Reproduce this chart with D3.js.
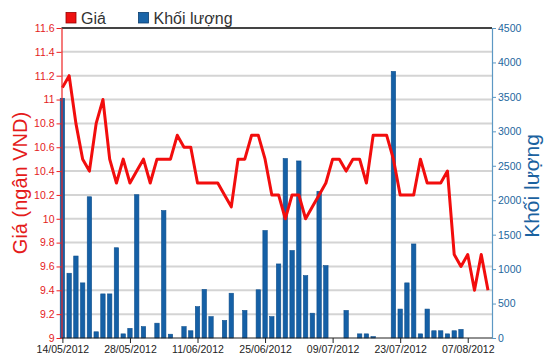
<!DOCTYPE html>
<html>
<head>
<meta charset="utf-8">
<script src="https://cdn.jsdelivr.net/npm/d3@7"></script>
<style>
  html, body { margin: 0; padding: 0; background: #fff; }
  svg { display: block; font-family: Arial, "Liberation Sans", sans-serif; }
</style>
</head>
<body>
<svg id="chart" width="550" height="364"></svg>
<script>
const dates = [
  "14/05/2012","15/05/2012","16/05/2012","17/05/2012","18/05/2012",
  "21/05/2012","22/05/2012","23/05/2012","24/05/2012","25/05/2012",
  "28/05/2012","29/05/2012","30/05/2012","31/05/2012","01/06/2012",
  "04/06/2012","05/06/2012","06/06/2012","07/06/2012","08/06/2012",
  "11/06/2012","12/06/2012","13/06/2012","14/06/2012","15/06/2012",
  "18/06/2012","19/06/2012","20/06/2012","21/06/2012","22/06/2012",
  "25/06/2012","26/06/2012","27/06/2012","28/06/2012","29/06/2012",
  "02/07/2012","03/07/2012","04/07/2012","05/07/2012","06/07/2012",
  "09/07/2012","10/07/2012","11/07/2012","12/07/2012","13/07/2012",
  "16/07/2012","17/07/2012","18/07/2012","19/07/2012","20/07/2012",
  "23/07/2012","24/07/2012","25/07/2012","26/07/2012","27/07/2012",
  "30/07/2012","31/07/2012","01/08/2012","02/08/2012","03/08/2012",
  "07/08/2012","08/08/2012","09/08/2012","10/08/2012"
];
const price = [
  11.1, 11.2, 10.8, 10.5, 10.4, 10.8, 11.0, 10.5, 10.3, 10.5,
  10.3, 10.4, 10.5, 10.3, 10.5, 10.5, 10.5, 10.7, 10.6, 10.6,
  10.3, 10.3, 10.3, 10.3, 10.2, 10.1, 10.5, 10.5, 10.7, 10.7,
  10.5, 10.2, 10.2, 10.0, 10.2, 10.2, 10.0, 10.1, 10.2, 10.3,
  10.5, 10.5, 10.4, 10.5, 10.5, 10.3, 10.7, 10.7, 10.7, 10.5,
  10.2, 10.2, 10.2, 10.5, 10.3, 10.3, 10.3, 10.4, 9.7, 9.6,
  9.7, 9.4, 9.7, 9.4
];
const volume = [
  3480, 940, 1190, 800, 2050, 90, 640, 640, 1310, 60,
  140, 2080, 165, 0, 215, 1850, 55, 0, 165, 105,
  455, 705, 310, 0, 255, 650, 0, 400, 0, 700,
  1560, 310, 1075, 2605, 1270, 2570, 905, 360, 2130, 1050,
  0, 0, 400, 0, 60, 60, 20, 0, 0, 3870,
  420, 800, 1365, 60, 420, 105, 105, 60, 105, 125,
  0, 0, 0, 0
];
const priceTicks = [9, 9.2, 9.4, 9.6, 9.8, 10, 10.2, 10.4, 10.6, 10.8, 11, 11.2, 11.4, 11.6];
const volumeTicks = [0, 500, 1000, 1500, 2000, 2500, 3000, 3500, 4000, 4500];
const dateTicks = ["14/05/2012","28/05/2012","11/06/2012","25/06/2012","09/07/2012","23/07/2012","07/08/2012"];

const svg = d3.select("#chart");
const pLeft = 61.5, pRight = 492, pTop = 28, pBottom = 338;

const x = d3.scalePoint().domain(dates).range([62.4, 488]);
const yP = d3.scaleLinear().domain([9, 11.6]).range([pBottom, pTop]);
const yV = d3.scaleLinear().domain([0, 4500]).range([pBottom, pTop]);

// gridlines
svg.append("g").selectAll("line")
  .data(priceTicks.filter(t => t > 9 && t < 11.6))
  .join("line")
  .attr("x1", pLeft).attr("x2", pRight)
  .attr("y1", d => yP(d)).attr("y2", d => yP(d))
  .attr("stroke", "#d4d4d4").attr("stroke-width", 2);

// top border
svg.append("line")
  .attr("x1", pLeft).attr("x2", pRight).attr("y1", pTop).attr("y2", pTop)
  .attr("stroke", "#444").attr("stroke-width", 2);

// bars
const bw = 4.4;
svg.append("g").selectAll("rect")
  .data(dates.map((d, i) => ({d, v: volume[i]})).filter(o => o.v > 0))
  .join("rect")
  .attr("x", o => x(o.d) - bw / 2)
  .attr("width", bw)
  .attr("y", o => yV(o.v))
  .attr("height", o => pBottom - yV(o.v))
  .attr("fill", "#1560a6")
  .attr("stroke", "#0e4f8c").attr("stroke-width", 0.6);

// price line
const line = d3.line().x((d, i) => x(dates[i])).y(d => yP(d));
svg.append("path")
  .datum(price)
  .attr("d", line)
  .attr("fill", "none")
  .attr("stroke", "#f20d0d")
  .attr("stroke-width", 3)
  .attr("stroke-linejoin", "round");

// left axis
const gL = svg.append("g").attr("transform", `translate(${pLeft},0)`)
  .call(d3.axisLeft(yP).tickValues(priceTicks).tickSize(5).tickSizeOuter(0)
    .tickFormat(d => String(+d.toFixed(1))));
gL.select(".domain").attr("stroke", "#ee2222").attr("stroke-width", 1.2);
gL.selectAll(".tick line").attr("stroke", "#ee2222");
gL.selectAll(".tick text").attr("fill", "#e41b1b").attr("font-size", "10.5px").attr("x", -7);

// right axis
const gR = svg.append("g").attr("transform", `translate(${pRight},0)`)
  .call(d3.axisRight(yV).tickValues(volumeTicks).tickSize(4).tickSizeOuter(0)
    .tickFormat(d3.format("d")));
gR.select(".domain").attr("stroke", "#5c98c4").attr("stroke-width", 1.2);
gR.selectAll(".tick line").attr("stroke", "#5c98c4");
gR.selectAll(".tick text").attr("fill", "#23679e").attr("font-size", "10.5px").attr("x", 6);

// bottom axis
const gB = svg.append("g").attr("transform", `translate(0,${pBottom})`)
  .call(d3.axisBottom(x).tickValues(dateTicks).tickSize(5).tickSizeOuter(0));
gB.select(".domain").attr("d", `M${pLeft},0H${pRight}`).attr("stroke", "#222").attr("stroke-width", 1.2);
gB.selectAll(".tick line").attr("stroke", "#222");
gB.selectAll(".tick text").attr("fill", "#222").attr("font-size", "10.5px").attr("y", 8);

// axis titles
svg.append("text")
  .attr("transform", `translate(27,${(pTop + pBottom) / 2}) rotate(-90)`)
  .attr("text-anchor", "middle")
  .attr("fill", "#e41b1b")
  .attr("font-size", "20px")
  .text("Giá (ngân VND)");
svg.append("text")
  .attr("transform", `translate(539,186) rotate(-90)`)
  .attr("text-anchor", "middle")
  .attr("fill", "#1b62a0")
  .attr("font-size", "21px")
  .text("Khối lượng");

// legend
const legend = [
  {label: "Giá", color: "#ee1111", stroke: "#990000", x: 66},
  {label: "Khối lượng", color: "#1a65a8", stroke: "#0b3e6e", x: 138.5}
];
const lg = svg.append("g").selectAll("g").data(legend).join("g")
  .attr("transform", d => `translate(${d.x},12.5)`);
lg.append("rect").attr("width", 10).attr("height", 10.5)
  .attr("fill", d => d.color).attr("stroke", d => d.stroke).attr("stroke-width", 0.8);
lg.append("text").attr("x", 15).attr("y", 11).attr("font-size", "16px")
  .attr("fill", "#333").text(d => d.label);
</script>
</body>
</html>
